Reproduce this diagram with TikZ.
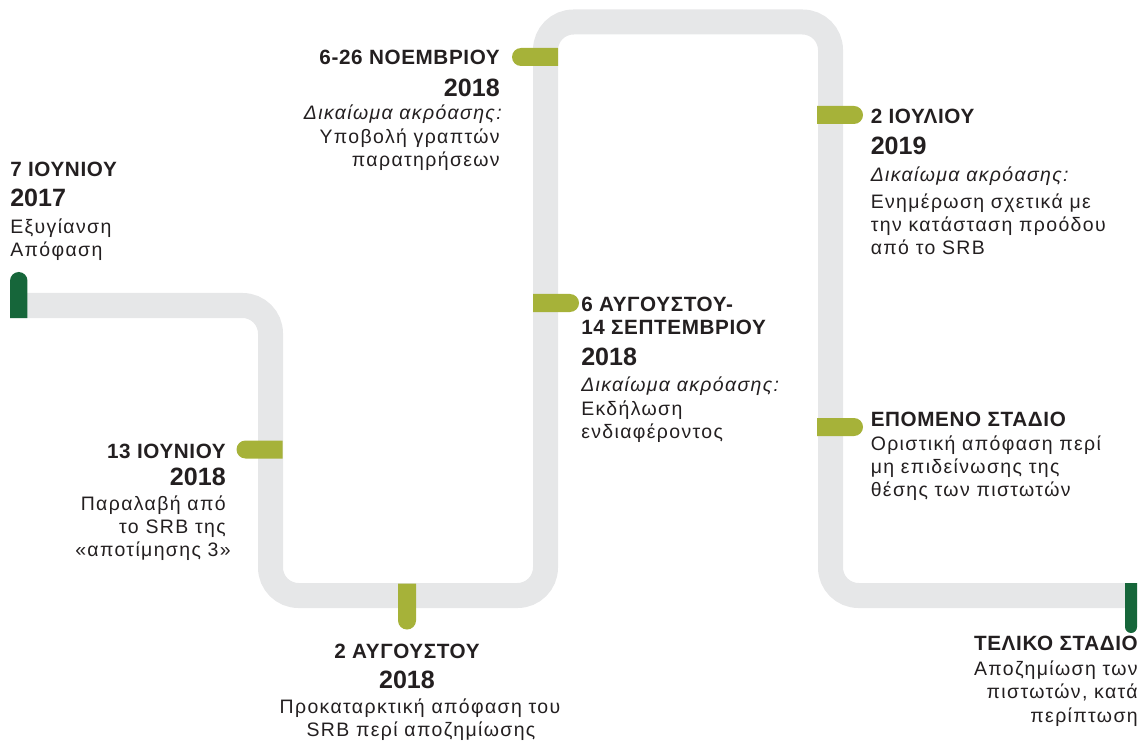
\documentclass[tikz,border=0pt]{standalone}
\usepackage{fontspec}
\setmainfont{Liberation Sans}
\newfontfamily\bodyfont[LetterSpace=7]{Liberation Sans}
\newfontfamily\hdrfont[LetterSpace=3]{Liberation Sans}
\usetikzlibrary{shapes.misc}
\definecolor{track}{HTML}{E6E7E8}
\definecolor{olive}{HTML}{A6B239}
\definecolor{deepgreen}{HTML}{16663A}
\definecolor{ink}{HTML}{231F20}
\tikzset{
  hdr/.style={inner sep=0pt, text=ink, font=\hdrfont\bfseries\fontsize{15.5}{18}\selectfont},
  yr/.style={inner sep=0pt, text=ink, font=\bfseries\fontsize{18.8}{22}\selectfont},
  bd/.style={inner sep=0pt, text=ink, font=\bodyfont\fontsize{14.6}{17}\selectfont},
  itl/.style={inner sep=0pt, text=ink, font=\bodyfont\itshape\fontsize{14.6}{17}\selectfont},
  mk/.style={rounded rectangle, inner sep=0pt, draw=none, minimum height=13.5pt, minimum width=34.5pt},
}
\begin{document}
\begin{tikzpicture}[x=0.75pt,y=-0.75pt]
\useasboundingbox (0,0) rectangle (1142,745);
% track
\coordinate (p0) at (10,305.5);
\coordinate (p1) at (270.5,305.5);
\coordinate (p2) at (270.5,595.5);
\coordinate (p3) at (545.5,595.5);
\coordinate (p4) at (545.5,22);
\coordinate (p5) at (830.5,22);
\coordinate (p6) at (830.5,595.5);
\coordinate (p7) at (1137,595.5);
\draw[track, line width=18.75pt, rounded corners=21pt] (p0) -- (p1) -- (p2) -- (p3) -- (p4) -- (p5) -- (p6) -- (p7);
% markers
\node[mk, fill=deepgreen, minimum height=13.1pt, rounded rectangle west arc=none, rotate=90] (m0) at (18.75,295) {};
\node[mk, fill=olive, rounded rectangle east arc=none] (m1) at (259.5,449.5) {};
\node[mk, fill=olive, rounded rectangle west arc=none, rotate=-90] (m2) at (407,606.5) {};
\node[mk, fill=olive, rounded rectangle east arc=none] (m3) at (535,57) {};
\node[mk, fill=olive, rounded rectangle west arc=none] (m4) at (556,303) {};
\node[mk, fill=olive, rounded rectangle west arc=none] (m5) at (840,115) {};
\node[mk, fill=olive, rounded rectangle west arc=none] (m6) at (840,427) {};
\node[mk, fill=deepgreen, minimum height=9pt, minimum width=37.5pt, rounded rectangle west arc=none, rotate=-90] (m7) at (1131,608) {};
% block A
\node[hdr, anchor=base west] (a1) at (10,176.7) {7 ΙΟΥΝΙΟΥ};
\node[yr, anchor=base west] (a2) at (10,206.7) {2017};
\node[bd, anchor=base west] (a3) at (10,233.3) {Εξυγίανση};
\node[bd, anchor=base west] (a4) at (10,256.7) {Απόφαση};
% block B
\node[hdr, anchor=base east] (b1) at (226,458.3) {13 ΙΟΥΝΙΟΥ};
\node[yr, anchor=base east] (b2) at (226,485) {2018};
\node[bd, anchor=base east] (b3) at (226,510) {Παραλαβή από};
\node[bd, anchor=base east] (b4) at (226,533.3) {το SRB της};
\node[bd, anchor=base east] (b5) at (231,556.7) {«αποτίμησης 3»};
% block C
\node[hdr, anchor=base east] (c1) at (500,65) {6-26 ΝΟΕΜΒΡΙΟΥ};
\node[yr, anchor=base east] (c2) at (500,96.7) {2018};
\node[itl, anchor=base east] (c3) at (502,120) {Δικαίωμα ακρόασης:};
\node[bd, anchor=base east] (c4) at (500,143.3) {Υποβολή γραπτών};
\node[bd, anchor=base east] (c5) at (500,166.7) {παρατηρήσεων};
% block D
\node[hdr, anchor=base west] (d1) at (581,311.7) {6 ΑΥΓΟΥΣΤΟΥ-};
\node[hdr, anchor=base west] (d2) at (581,334.3) {14 ΣΕΠΤΕΜΒΡΙΟΥ};
\node[yr, anchor=base west] (d3) at (581,365) {2018};
\node[itl, anchor=base west] (d4) at (581,391.6) {Δικαίωμα ακρόασης:};
\node[bd, anchor=base west] (d5) at (581,415) {Εκδήλωση};
\node[bd, anchor=base west] (d6) at (581,438.4) {ενδιαφέροντος};
% block E
\node[hdr, anchor=base west] (e1) at (870.5,124) {2 ΙΟΥΛΙΟΥ};
\node[yr, anchor=base west] (e2) at (870.5,155) {2019};
\node[itl, anchor=base west] (e3) at (870.5,182) {Δικαίωμα ακρόασης:};
\node[bd, anchor=base west] (e4) at (870.5,208.3) {Ενημέρωση σχετικά με};
\node[bd, anchor=base west] (e5) at (870.5,231.7) {την κατάσταση προόδου};
\node[bd, anchor=base west] (e6) at (870.5,255) {από το SRB};
% block F
\node[hdr, anchor=base west] (f1) at (870.5,426.7) {ΕΠΟΜΕΝΟ ΣΤΑΔΙΟ};
\node[bd, anchor=base west] (f2) at (870.5,450) {Οριστική απόφαση περί};
\node[bd, anchor=base west] (f3) at (870.5,473.3) {μη επιδείνωσης της};
\node[bd, anchor=base west] (f4) at (870.5,496.7) {θέσης των πιστωτών};
% block G
\node[hdr, anchor=base east] (g1) at (1138,650) {ΤΕΛΙΚΟ ΣΤΑΔΙΟ};
\node[bd, anchor=base east] (g2) at (1138,675) {Αποζημίωση των};
\node[bd, anchor=base east] (g3) at (1138,698.5) {πιστωτών, κατά};
\node[bd, anchor=base east] (g4) at (1138,722) {περίπτωση};
% block H
\node[hdr, anchor=base] (h1) at (407,658.3) {2 ΑΥΓΟΥΣΤΟΥ};
\node[yr, anchor=base] (h2) at (407,688.3) {2018};
\node[bd, anchor=base] (h3) at (420,713) {Προκαταρκτική απόφαση του};
\node[bd, anchor=base] (h4) at (421,736.5) {SRB περί αποζημίωσης};
\end{tikzpicture}
\end{document}
